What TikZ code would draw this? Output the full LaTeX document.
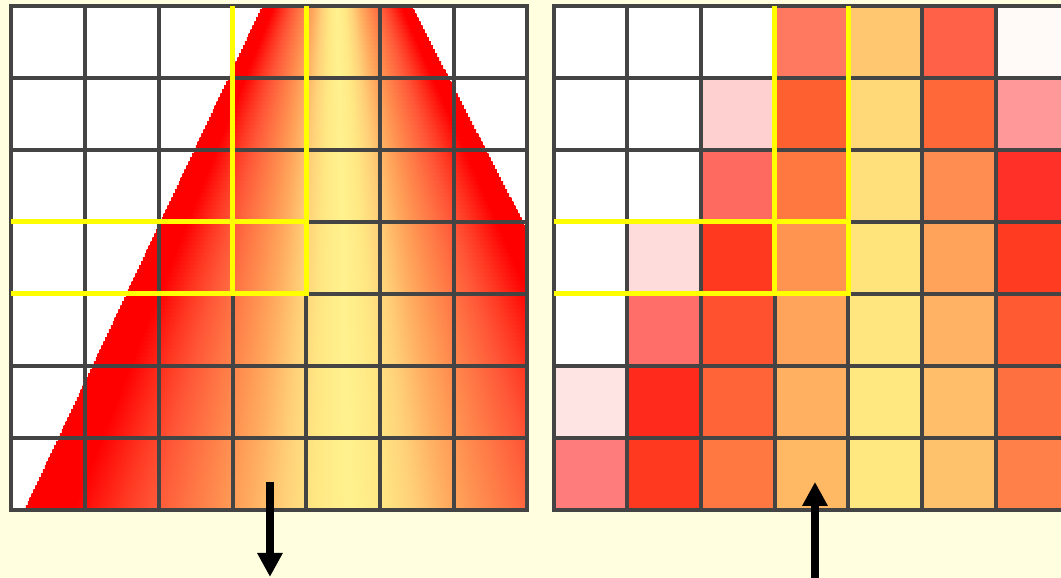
\documentclass[tikz,border=0pt]{standalone}
\usetikzlibrary{arrows.meta}

\definecolor{bgyellow}{HTML}{FFFFE0}
\definecolor{gridgray}{HTML}{444444}
\definecolor{hiyellow}{HTML}{FFFF00}
\definecolor{conea}{HTML}{FF3822}
\definecolor{coneb}{HTML}{FF5838}
\definecolor{conec}{HTML}{FF9050}
\definecolor{coned}{HTML}{FFAE60}
\definecolor{conee}{HTML}{FFD078}
\definecolor{conef}{HTML}{FFE884}
\definecolor{coneg}{HTML}{FFF28E}
\pgfdeclarehorizontalshading{cone}{100bp}{color(0bp)=(red); color(28.75bp)=(red);
  color(32.5bp)=(conea); color(35bp)=(coneb); color(40bp)=(conec); color(42.5bp)=(coned);
  color(45bp)=(conee); color(47.5bp)=(conef); color(50bp)=(coneg); color(52.5bp)=(conef);
  color(55bp)=(conee); color(57.5bp)=(coned); color(60bp)=(conec); color(65bp)=(coneb);
  color(67.5bp)=(conea); color(71.25bp)=(red); color(100bp)=(red)}

\begin{document}
\begin{tikzpicture}[x=73.7pt, y=-72pt,
    gridline/.style={gridgray, line width=4pt, line cap=rect},
    hilite/.style={hiyellow, line width=5pt},
    bigarrow/.style={black, line width=8pt, -{Triangle[width=24pt,length=24pt]}}]
  \path[use as bounding box, fill=bgyellow] (-0.156,-0.083) rectangle (14.24,7.944);
  \clip (-0.156,-0.083) rectangle (14.24,7.944);

  \fill[white] (0,0) rectangle (7,7);
  \begin{scope}
    \clip (0,0) rectangle (7,7);
    \foreach \i in {0,...,125} {
      \pgfmathsetmacro{\ya}{\i*7/126}
      \pgfmathsetmacro{\yb}{\ya+7/126+0.01}
      \pgfmathsetmacro{\xl}{3.41-3.227*(\ya+3.5/126)/7}
      \pgfmathsetmacro{\xr}{5.424+3.526*(\ya+3.5/126)/7}
      \shade[shading=cone] (\xl,\ya) rectangle (\xr,\yb);
    }
  \end{scope}
  \foreach \i in {0,...,7} {
    \draw[gridline] (\i,0) -- (\i,7);
    \draw[gridline] (0,\i) -- (7,\i);
  }
  \draw[hilite] (3,0) -- (3,4) (4,0) -- (4,4) -- (0,4) (0,3) -- (4,3);

  \begin{scope}[xshift=7.354*73.7pt]
    \foreach \cl [count=\r from 0] in {
        {FFFFFF,FFFFFF,FFFFFF,FF7860,FFC870,FF6048,FFFAF8},
        {FFFFFF,FFFFFF,FFD0D0,FF6030,FFD878,FF6838,FF9898},
        {FFFFFF,FFFFFF,FF6A60,FF7840,FFE07A,FF8C50,FF3028},
        {FFFFFF,FFDCDC,FF3820,FF9450,FFE47C,FFA25A,FF3C22},
        {FFFFFF,FF6E68,FF5030,FFA45A,FFE67E,FFB264,FF5A32},
        {FFE4E4,FF2A1C,FF6438,FFB060,FFE880,FFBE6A,FF7040},
        {FF7C7C,FF3820,FF7842,FFB864,FFE880,FFC26C,FF8048}} {
      \foreach \c [count=\k from 0] in \cl {
        \definecolor{cellc}{HTML}{\c}
        \fill[cellc] (\k,\r) rectangle ++(1,1);
      }
    }
    \foreach \i in {0,...,7} {
      \draw[gridline] (\i,0) -- (\i,7);
      \draw[gridline] (0,\i) -- (7,\i);
    }
    \draw[hilite] (3,0) -- (3,4) (4,0) -- (4,4) -- (0,4) (0,3) -- (4,3);
  \end{scope}

  \coordinate (downtail) at (3.507,6.61);
  \coordinate (downtip) at (3.507,7.93);
  \coordinate (uptail) at (10.902,8.0);
  \coordinate (uptip) at (10.902,6.61);
  \draw[bigarrow] (downtail) -- (downtip);
  \draw[bigarrow] (uptail) -- (uptip);
\end{tikzpicture}
\end{document}
